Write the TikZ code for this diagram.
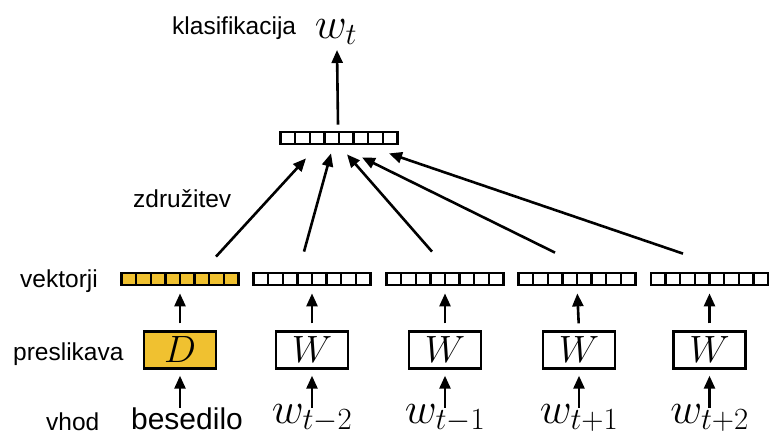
\RequirePackage{fix-cm}
\documentclass[tikz,border=0pt]{standalone}
\usepackage{fontspec}
\setsansfont{Liberation Sans}
\usetikzlibrary{arrows.meta,calc}
\definecolor{vecyellow}{RGB}{240,193,48}
\begin{document}
\begin{tikzpicture}[x=1pt,y=-1pt,
  vec/.style={minimum width=117pt, minimum height=12pt, inner sep=0pt, outer sep=1.4pt},
  cell/.style={draw, line width=2.4pt},
  mapbox/.style={draw, line width=2.4pt, minimum width=72pt, minimum height=37pt, inner sep=0pt, font=\fontsize{38}{38}\selectfont},
  lbl/.style={inner sep=0pt, anchor=base west, font=\sffamily\fontsize{24.5}{28}\selectfont},
  inp/.style={inner sep=0pt, anchor=base, font=\fontsize{44}{48}\selectfont},
  arr/.style={line width=2.6pt, -{Triangle[length=13pt,width=11pt]}}
]
\useasboundingbox (0,0) rectangle (770,436);

% labels
\node[lbl] (lk) at (172,35) {klasifikacija};
\node[inp] (wt) at (336,38) {$w_t$};
\node[lbl] (lz) at (133,207) {združitev};
\node[lbl] (lv) at (20,287) {vektorji};
\node[lbl] (lp) at (13,360) {preslikava};
\node[lbl] (lh) at (46,430) {vhod};

% vector anchors
\node[vec] (vt) at (339,138) {};
\node[vec] (v0) at (180,279) {};
\node[vec] (v1) at (312,279) {};
\node[vec] (v2) at (445,279) {};
\node[vec] (v3) at (577,279) {};
\node[vec] (v4) at (709.5,279) {};

% vector cells
\foreach \v/\f in {vt/white, v0/vecyellow, v1/white, v2/white, v3/white, v4/white}{
  \foreach \k in {0,...,7}{
    \draw[cell, fill=\f] ($(\v.center)+(-58.5+\k*14.625,-6)$) rectangle ($(\v.center)+(-58.5+\k*14.625+14.625,6)$);
  }
}

% mapping boxes
\node[mapbox, fill=vecyellow] (b0) at (180,350) {$D$};
\node[mapbox] (b1) at (312,350) {$W$};
\node[mapbox] (b2) at (445,350) {$W$};
\node[mapbox] (b3) at (579,350) {$W$};
\node[mapbox] (b4) at (709.5,350) {$W$};

% inputs
\node[inp, font=\sffamily\fontsize{30}{34}\selectfont] (i0) at (187,429) {besedilo};
\node[inp] (i1) at (312,423) {$w_{t-2}$};
\node[inp] (i2) at (445,423) {$w_{t-1}$};
\node[inp] (i3) at (579,423) {$w_{t+1}$};
\node[inp] (i4) at (709.5,423) {$w_{t+2}$};

% input -> box, box -> vector
\foreach \i in {0,...,4}{
  \draw[arr, shorten >=6pt] ([yshift=-38pt]b\i.south) -- (b\i.south);
  \draw[arr, shorten <=7pt, shorten >=7pt] (b\i.north) -- (v\i.south);
}

% vectors -> combined vector
\draw[arr] ([xshift=36pt,yshift=15pt]v0.north) -- ([xshift=-33pt,yshift=-13pt]vt.south);
\draw[arr] ([xshift=-8pt,yshift=20pt]v1.north) -- ([xshift=-8pt,yshift=-8pt]vt.south);
\draw[arr] ([xshift=-13pt,yshift=20pt]v2.north) -- ([xshift=8pt,yshift=-9pt]vt.south);
\draw[arr] ([xshift=-22pt,yshift=19pt]v3.north) -- ([xshift=23pt,yshift=-12pt]vt.south);
\draw[arr] ([xshift=-26.5pt,yshift=18pt]v4.north) -- ([xshift=50pt,yshift=-8pt]vt.south);

% classification
\draw[arr] ([xshift=-1pt,yshift=6pt]vt.north) -- ([xshift=-2pt,yshift=-12pt]vt.north |- wt.base);
\end{tikzpicture}
\end{document}
